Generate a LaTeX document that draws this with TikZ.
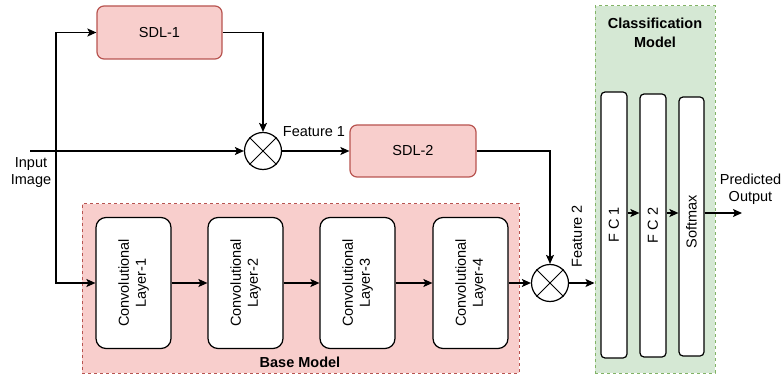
\documentclass[tikz,border=0pt]{standalone}
\usepackage{fontspec}
\setmainfont{Liberation Sans}
\usetikzlibrary{arrows.meta}
\definecolor{pinkfill}{HTML}{F8CECC}
\definecolor{pinkline}{HTML}{B85450}
\definecolor{greenfill}{HTML}{D5E8D4}
\definecolor{greenline}{HTML}{82B366}
\begin{document}
\begin{tikzpicture}[x=1pt,y=-1pt,
  font=\fontsize{14.5}{17}\selectfont,
  line width=1.2pt,
  arr/.style={draw=black,-{Stealth[length=9pt,width=8pt,inset=2pt]}},
  sdl/.style={draw=pinkline,fill=pinkfill,rounded corners=7pt,minimum height=53pt,inner sep=0pt},
  conv/.style={draw=black,fill=white,rounded corners=10pt,minimum width=75pt,minimum height=131pt,inner sep=0pt},
  fc/.style={draw=black,fill=white,rounded corners=4pt,inner sep=0pt},
  mult/.style={circle,draw=black,fill=white,minimum size=37pt,inner sep=0pt},
  group/.style={dash pattern=on 3pt off 3pt,line width=1pt,inner sep=0pt},
  vtext/.style={rotate=90,align=center}
]
\useasboundingbox (0,0) rectangle (782,374);

% group boxes
\node[group,draw=pinkline,fill=pinkfill,minimum width=437pt,minimum height=169pt] (base) at (300.5,288.5) {};
\node[group,draw=greenline,fill=greenfill,minimum width=120pt,minimum height=367pt] (cls) at (655,189.5) {};
\node[font=\fontsize{14.5}{17}\selectfont\bfseries] (basel) at (300,362) {Base Model};
\node[font=\fontsize{14.5}{19}\selectfont\bfseries,align=center] (clsl) at (655,33) {Classification\\Model};

% SDL boxes
\node[sdl,minimum width=125pt] (sdl1) at (159.5,32.5) {SDL-1};
\node[sdl,minimum width=126pt,minimum height=52pt] (sdl2) at (413,151) {SDL-2};

% multipliers
\node[mult] (m1) at (263,151) {};
\draw[line width=1pt] (m1.north west) -- (m1.south east) (m1.north east) -- (m1.south west);
\node[mult] (m2) at (550,283) {};
\draw[line width=1pt] (m2.north west) -- (m2.south east) (m2.north east) -- (m2.south west);

% conv layers
\node[conv] (c1) at (133.5,283) {};
\node[conv] (c2) at (245.5,283) {};
\node[conv] (c3) at (357.5,283) {};
\node[conv] (c4) at (470.5,283) {};
\node[vtext] (t1) at (c1) {Convolutional\\Layer-1};
\node[vtext] (t2) at (c2) {Convolutional\\Layer-2};
\node[vtext] (t3) at (c3) {Convolutional\\Layer-3};
\node[vtext] (t4) at (c4) {Convolutional\\Layer-4};

% FC layers
\node[fc,minimum width=26pt,minimum height=266pt] (fc1) at (614,225) {};
\node[fc,minimum width=26pt,minimum height=263pt] (fc2) at (653,225.5) {};
\node[fc,minimum width=25pt,minimum height=259pt] (sm) at (691.5,226.5) {};
\node[vtext] (fc1t) at (fc1) {F C 1};
\node[vtext] (fc2t) at (fc2) {F C 2};
\node[vtext] (smt) at (691.5,222) {Softmax};

% labels
\node[align=center] (inl) at (31,173) {Input\\Image};
\node (f1) at (314,132) {Feature 1};
\node[rotate=90] (f2) at (577,236) {Feature 2};
\node[align=center,inner sep=0pt] (outl) at (750.5,189) {Predicted\\Output};

% connectors
\coordinate (in) at (30,151);
\coordinate (b1) at (56,32.5);
\coordinate (o) at (742,213);
\draw[arr] (in) -- (m1.west);
\draw[arr] (b1) -- (sdl1.west);
\draw[arr] (b1) |- (c1.west);
\draw[arr] (sdl1.east) -| (m1.north);
\draw[arr] (m1.east) -- (sdl2.west);
\draw[arr] (sdl2.east) -| (m2.north);
\draw[arr] (c1) -- (c2);
\draw[arr] (c2) -- (c3);
\draw[arr] (c3) -- (c4);
\draw[arr] (c4.east) -- (m2.west);
\draw[arr] (m2.east) -- (cls.west |- m2.east);
\draw[arr] (fc1.east |- o) -- (fc2.west |- o);
\draw[arr] (fc2.east |- o) -- (sm.west |- o);
\draw[arr] (sm.east |- o) -- (o);
\end{tikzpicture}
\end{document}
